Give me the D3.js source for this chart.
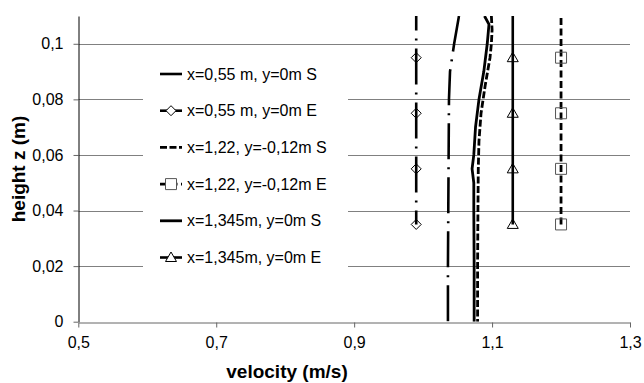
<!DOCTYPE html>
<html>
<head>
<meta charset="utf-8">
<script src="https://cdn.jsdelivr.net/npm/d3@7"></script>
<style>
  html, body { margin: 0; padding: 0; background: #fff; }
  svg { display: block; font-family: "Liberation Sans", Arial, sans-serif; }
</style>
</head>
<body>
<svg id="chart" width="644" height="383"></svg>
<script>
// Velocity profiles: S = simulated curves, E = measured points
const xTicks = [0.5, 0.7, 0.9, 1.1, 1.3];
const yTicks = [0, 0.02, 0.04, 0.06, 0.08, 0.1];

const seriesNames = [
  "x=0,55 m, y=0m S",
  "x=0,55 m, y=0m E",
  "x=1,22, y=-0,12m S",
  "x=1,22, y=-0,12m E",
  "x=1,345m, y=0m S",
  "x=1,345m, y=0m E"
];

// x=0,55 S (top to bottom)
const zS055 = [0.11, 0.1, 0.09, 0.08, 0.06, 0.04, 0.02, 0];
const vS055 = [1.052, 1.045, 1.039, 1.0375, 1.037, 1.0365, 1.036, 1.036];

// x=1,22 S
const zS122 = [0.11, 0.105, 0.1, 0.095, 0.085, 0.075, 0.065, 0.055, 0.04, 0.02, 0];
const vS122 = [1.099, 1.100, 1.099, 1.097, 1.090, 1.084, 1.081, 1.080, 1.0795, 1.079, 1.079];

// x=1,345 S
const zS1345 = [0.11, 0.107, 0.1, 0.09, 0.08, 0.07, 0.06, 0.055, 0.05, 0.04, 0.02, 0];
const vS1345 = [1.089, 1.0955, 1.093, 1.088, 1.081, 1.076, 1.0735, 1.071, 1.0735, 1.0735, 1.074, 1.074];

// measured heights and velocities
const zE = [0.035, 0.055, 0.075, 0.095, 0.115];
const vE055 = [0.99, 0.99, 0.99, 0.99, 0.99];
const vE122 = [1.2, 1.2, 1.2, 1.2, 1.2];
const vE1345 = [1.13, 1.13, 1.13, 1.13, 1.13];

const svg = d3.select("#chart");
const plotL = 78.3, plotR = 630, plotT = 16, plotB = 321.7;

const x = d3.scaleLinear().domain([0.5, 1.3]).range([plotL, plotR]);
const y = d3.scaleLinear().domain([0, 0.11]).range([plotB, plotT]);
const fmt = d => String(d).replace(".", ",");

svg.append("defs").append("clipPath").attr("id", "plotClip")
  .append("rect").attr("x", plotL).attr("y", plotT)
  .attr("width", plotR - plotL).attr("height", plotB - plotT);

// horizontal gridlines
svg.append("g").selectAll("line").data(yTicks.filter(d => d > 0)).join("line")
  .attr("x1", plotL).attr("x2", plotR)
  .attr("y1", d => Math.round(y(d)) + 0.5).attr("y2", d => Math.round(y(d)) + 0.5)
  .attr("stroke", "#808080").attr("stroke-width", 1);

// legend background interrupts the gridlines
svg.append("rect").attr("x", 143).attr("y", 56).attr("width", 205).attr("height", 220)
  .attr("fill", "#fff");

// axes
const xAxis = svg.append("g")
  .attr("transform", `translate(0,${Math.round(plotB) + 0.5})`)
  .call(d3.axisBottom(x).tickValues(xTicks).tickFormat(fmt).tickSizeInner(5).tickSizeOuter(0));
xAxis.select(".domain").attr("stroke", "#666");
xAxis.selectAll(".tick line").attr("stroke", "#666");
xAxis.selectAll(".tick text").attr("font-size", 16).attr("fill", "#000")
  .attr("font-family", "Liberation Sans, Arial, sans-serif").attr("dy", "1.1em");

const yAxis = svg.append("g")
  .attr("transform", `translate(${Math.round(plotL) + 0.5},0)`)
  .call(d3.axisLeft(y).tickValues(yTicks).tickFormat(fmt).tickSizeInner(5).tickSizeOuter(0));
yAxis.select(".domain").attr("stroke", "#000");
yAxis.selectAll(".tick line").attr("stroke", "#666");
yAxis.selectAll(".tick text").attr("font-size", 16).attr("fill", "#000")
  .attr("font-family", "Liberation Sans, Arial, sans-serif").attr("x", -15);

// axis titles
svg.append("text").attr("x", 287).attr("y", 378).attr("text-anchor", "middle")
  .attr("font-size", 19).attr("font-weight", "bold").text("velocity (m/s)");
svg.append("text").attr("transform", `translate(25,169) rotate(-90)`)
  .attr("text-anchor", "middle").attr("font-size", 19).attr("font-weight", "bold")
  .text("height z (m)");

// series
const line = d3.line().x(d => x(d[0])).y(d => y(d[1]));
const pairs = (vs, zs) => vs.map((v, i) => [v, zs[i]]);

const styles = [
  { dash: "36,8,2,8", width: 2.6, marker: null },
  { dash: "36,8,2,8", width: 2.6, marker: "diamond", offset: 22 },
  { dash: "7,2.5", width: 2.8, marker: null },
  { dash: "7,3.5", width: 2.8, marker: "square" },
  { dash: null, width: 2.8, marker: null },
  { dash: null, width: 2.6, marker: "triangle" }
];

const data = [
  pairs(vS055, zS055),
  pairs(vE055, zE),
  pairs(vS122, zS122),
  pairs(vE122, zE),
  pairs(vS1345, zS1345),
  pairs(vE1345, zE)
];

const markerPath = {
  diamond: "M0,-5L5,0L0,5L-5,0Z",
  triangle: "M0,-5.5L5.5,4L-5.5,4Z",
  square: "M-5.5,-5.5H5.5V5.5H-5.5Z"
};
const markerStroke = { diamond: "#000", triangle: "#000", square: "#555" };

const plot = svg.append("g").attr("clip-path", "url(#plotClip)");
data.forEach((pts, i) => {
  const s = styles[i];
  plot.append("path").attr("d", line(pts)).attr("fill", "none")
    .attr("stroke", "#000").attr("stroke-width", s.width)
    .attr("stroke-dasharray", s.dash)
    .attr("stroke-dashoffset", s.offset || 0);
  if (s.marker) {
    plot.append("g").selectAll("path").data(pts).join("path")
      .attr("d", markerPath[s.marker])
      .attr("transform", d => `translate(${x(d[0])},${y(d[1])})`)
      .attr("fill", "none").attr("stroke", markerStroke[s.marker]).attr("stroke-width", 1);
  }
});

// legend
const legend = svg.append("g");
const legY0 = 74, legStep = 36.7;
seriesNames.forEach((name, i) => {
  const s = styles[i];
  const cy = legY0 + i * legStep;
  legend.append("line").attr("x1", 160).attr("x2", 182).attr("y1", cy).attr("y2", cy)
    .attr("stroke", "#000").attr("stroke-width", s.width)
    .attr("stroke-dasharray", s.dash);
  if (s.marker) {
    legend.append("path").attr("d", markerPath[s.marker])
      .attr("transform", `translate(171,${cy})`)
      .attr("fill", "#fff").attr("stroke", markerStroke[s.marker]).attr("stroke-width", 1);
  }
  legend.append("text").attr("x", 187).attr("y", cy).attr("dy", "0.35em")
    .attr("font-size", 16).text(name);
});
</script>
</body>
</html>
